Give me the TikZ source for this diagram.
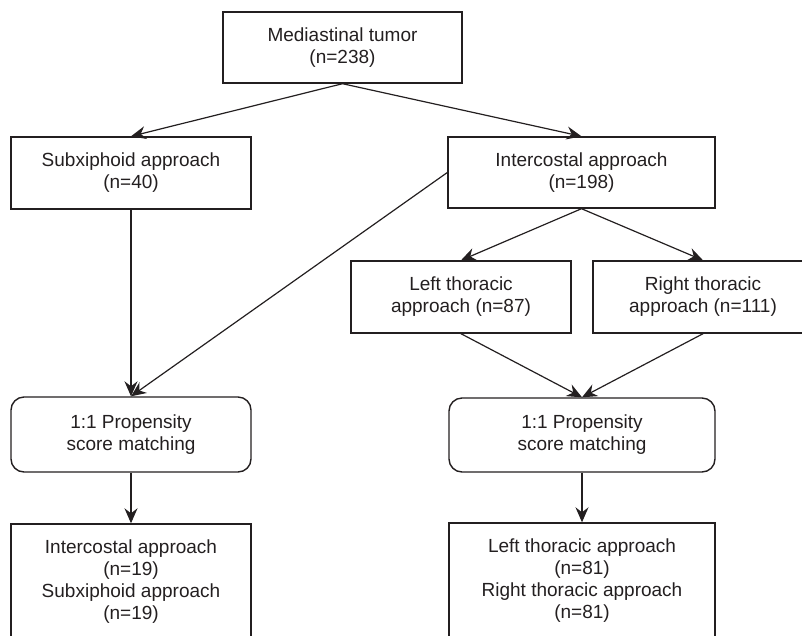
\documentclass[tikz,border=0pt]{standalone}
\usepackage{fontspec}
\setmainfont{Liberation Sans}
\usetikzlibrary{arrows.meta}
\definecolor{ink}{RGB}{35,31,32}
\tikzset{
  box/.style={draw=ink, line width=1.4pt, rectangle, align=center, text=ink,
    font=\fontsize{19}{22}\selectfont, inner sep=0pt},
  rbox/.style={box, rounded corners=13pt},
  conn/.style={draw=ink, line width=1.2pt, -{Stealth[length=15pt,width=13pt,inset=5pt]}}
}
\begin{document}
\begin{tikzpicture}[x=1pt,y=-1pt]
\useasboundingbox (0,0) rectangle (802,635);
\clip (0,0) rectangle (802,635);
\node[box, minimum width=239pt, minimum height=71pt] (top) at (342.5,47.5) {Mediastinal tumor\\(n=238)};
\node[box, minimum width=240pt, minimum height=72pt] (sub) at (131,173) {Subxiphoid approach\\(n=40)};
\node[box, minimum width=267pt, minimum height=71pt] (inter) at (581.5,172.5) {Intercostal approach\\(n=198)};
\node[box, minimum width=220pt, minimum height=72pt] (left) at (461,297) {Left thoracic\\approach (n=87)};
\node[box, minimum width=220pt, minimum height=72pt] (right) at (703,297) {Right thoracic\\approach (n=111)};
\node[rbox, minimum width=240pt, minimum height=75pt] (psmA) at (131,434.5) {1:1 Propensity\\score matching};
\node[rbox, minimum width=266pt, minimum height=74pt] (psmB) at (582,435) {1:1 Propensity\\score matching};
\node[box, minimum width=240pt, minimum height=115pt] (resA) at (131,581.5) {Intercostal approach\\(n=19)\\Subxiphoid approach\\(n=19)};
\node[box, minimum width=266pt, minimum height=116pt] (resB) at (582,581) {Left thoracic approach\\(n=81)\\Right thoracic approach\\(n=81)};
\draw[conn] (top.south) -- (sub.north);
\draw[conn] (top.south) -- (inter.north);
\draw[conn] (sub.south) -- (psmA.north);
\draw[conn] (inter.west) -- (psmA.north);
\draw[conn] (inter.south) -- (left.north);
\draw[conn] (inter.south) -- (right.north);
\draw[conn] (left.south) -- (psmB.north);
\draw[conn] (right.south) -- (psmB.north);
\draw[conn] (psmA.south) -- (resA.north);
\draw[conn] (psmB.south) -- (resB.north);
\end{tikzpicture}
\end{document}
